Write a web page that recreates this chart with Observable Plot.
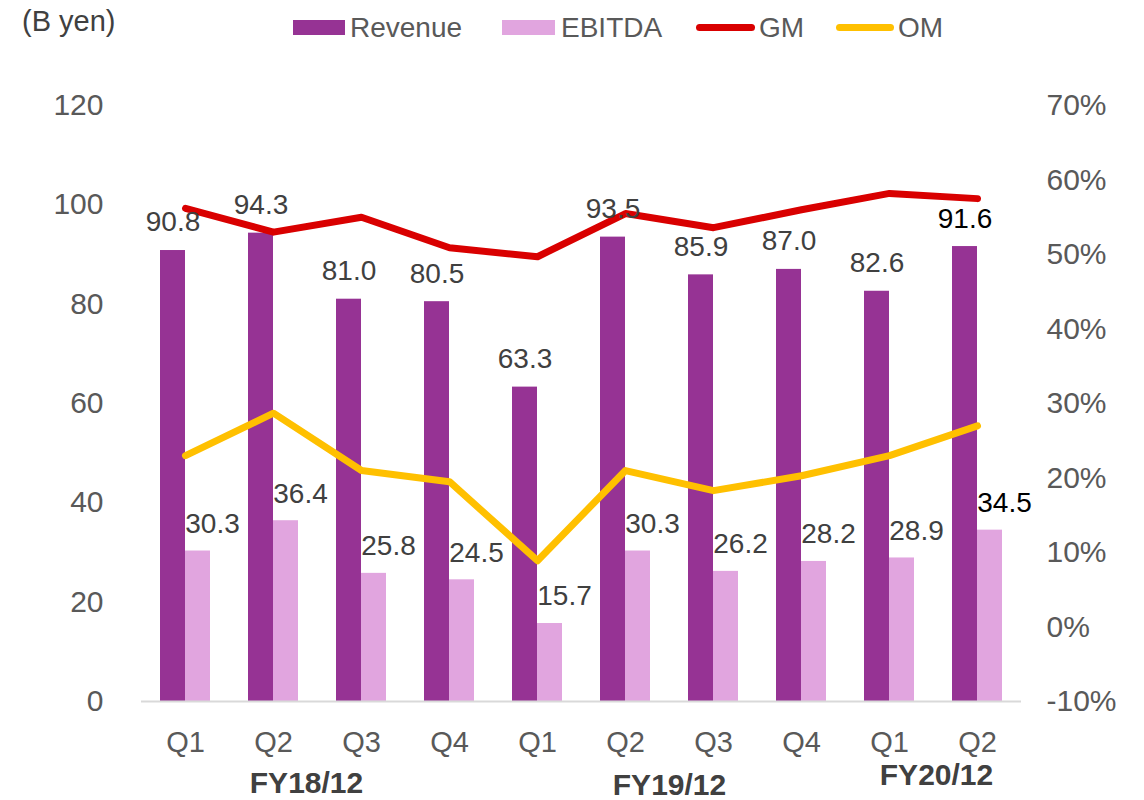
<!DOCTYPE html>
<html><head><meta charset="utf-8">
<script src="https://cdn.jsdelivr.net/npm/d3@7"></script>
<script src="https://cdn.jsdelivr.net/npm/@observablehq/plot@0.6"></script>
<style>
body{margin:0;background:#fff;font-family:"Liberation Sans",Arial,sans-serif;}
#wrap{position:relative;width:1144px;height:800px;overflow:hidden;}
#wrap svg{position:absolute;left:0;top:0;}
.lg{position:absolute;top:11px;height:34px;line-height:34px;font-size:28px;color:#595959;white-space:nowrap;}
.sw{position:absolute;}
</style></head><body><div id="wrap"></div>
<script>
// ---- data ----
const quarters = ["Q1","Q2","Q3","Q4","Q1","Q2","Q3","Q4","Q1","Q2"];
const fiscalYears = ["FY18","FY18","FY18","FY18","FY19","FY19","FY19","FY19","FY20","FY20"];
const revenue = [90.8,94.3,81.0,80.5,63.3,93.5,85.9,87.0,82.6,91.6];
const ebitda = [30.3,36.4,25.8,24.5,15.7,30.3,26.2,28.2,28.9,34.5];
const gm = [56.2,53.0,55.0,50.9,49.7,55.5,53.6,56.0,58.2,57.5];
const om = [23.0,28.7,21.0,19.5,8.9,21.0,18.3,20.3,23.0,27.0];
const yTicks = [0,20,40,60,80,100,120];
const pctTicks = [-10,0,10,20,30,40,50,60,70];
const fyLabels = ["FY18/12","FY19/12","FY20/12"];
const fyAfter = ["FY18 Q2","FY19 Q2","FY20 Q1"];
const seriesNames = ["Revenue","EBITDA","GM","OM"];

// ---- build ----
const keys = quarters.map((q,i)=>fiscalYears[i]+" "+q);
const rows = keys.map((k,i)=>({key:k, q:quarters[i], revenue:revenue[i], ebitda:ebitda[i], gm:gm[i], om:om[i], i}));
const toLeft = p => (p + 10) * 1.5;
const fy = fyLabels.map((l,i)=>({label:l, key:fyAfter[i], i}));
const fyDy = [91, 93, 83];
const fyDx = [33, 44, 47];

const C = {rev:"#963394", eb:"#E1A5DF", gm:"#D90000", om:"#FFC000", tick:"#595959", lab:"#404040"};
const FONT = '"Liberation Sans", Arial, sans-serif';

const chart = Plot.plot({
  width: 1144, height: 800,
  marginLeft: 141, marginRight: 123, marginTop: 105, marginBottom: 99,
  style: {fontFamily: FONT, background: "#fff"},
  x: {domain: keys, paddingInner: 0.43, paddingOuter: 0.215, axis: null, label: null},
  y: {domain: [0,120], axis: null, label: null},
  marks: [
    Plot.barY(rows, {x:"key", y:"revenue", fill:C.rev, insetRight:25}),
    Plot.barY(rows, {x:"key", y:"ebitda", fill:C.eb, insetLeft:25}),
    Plot.ruleY([0], {stroke:"#D9D9D9", strokeWidth:2}),
    Plot.axisY(yTicks, {anchor:"left", tickSize:0, tickPadding:38, fontSize:30, fill:C.tick, label:null}),
    Plot.axisY(pctTicks.map(toLeft), {anchor:"right", tickSize:0, tickPadding:25, fontSize:30, fill:C.tick, textAnchor:"start", label:null,
      tickFormat: d => Math.round(d/1.5 - 10) + "%"}),
    Plot.axisX(keys, {anchor:"bottom", tickSize:0, tickPadding:30, fontSize:29, fill:C.tick, label:null,
      tickFormat: k => k.split(" ")[1]}),
    Plot.lineY(rows, {x:"key", y: d => toLeft(d.gm), stroke:C.gm, strokeWidth:7, strokeLinecap:"round"}),
    Plot.lineY(rows, {x:"key", y: d => toLeft(d.om), stroke:C.om, strokeWidth:7, strokeLinecap:"round"}),
    Plot.text(rows, {x:"key", y:"revenue", text: d => d.revenue.toFixed(1), dx:-12.5, dy:-28,
      fontSize:28, fill: d => d.i === rows.length-1 ? "#000" : C.lab}),
    Plot.text(rows, {x:"key", y:"ebitda", text: d => d.ebitda.toFixed(1), dx:27, dy:-27,
      fontSize:28, fill: d => d.i === rows.length-1 ? "#000" : C.lab}),
    ...fy.map(d => Plot.text([d], {x:"key", text:"label", frameAnchor:"bottom", lineAnchor:"bottom",
      dx: fyDx[d.i], dy: fyDy[d.i], fontSize:30, fontWeight:"bold", fill:C.lab}))
  ]
});
const wrap = document.getElementById("wrap");
wrap.appendChild(chart);

// ---- legend ----
function add(html){ wrap.insertAdjacentHTML("beforeend", html); }
add(`<div class="lg" style="left:22px;top:4px;font-size:29px;color:#404040">(B yen)</div>`);
const lg = [
  {sw:293, w:52, tx:350, type:"box", c:C.rev},
  {sw:502, w:53, tx:561, type:"box", c:C.eb},
  {sw:696, w:59, tx:759, type:"line", c:C.gm},
  {sw:836, w:58, tx:898, type:"line", c:C.om}
];
lg.forEach((l,i)=>{
  if (l.type==="box") add(`<div class="sw" style="left:${l.sw}px;top:20px;width:${l.w}px;height:15px;background:${l.c}"></div>`);
  else add(`<div class="sw" style="left:${l.sw}px;top:24px;width:${l.w}px;height:7px;border-radius:4px;background:${l.c}"></div>`);
  add(`<div class="lg" style="left:${l.tx}px">${seriesNames[i]}</div>`);
});
</script></body></html>
